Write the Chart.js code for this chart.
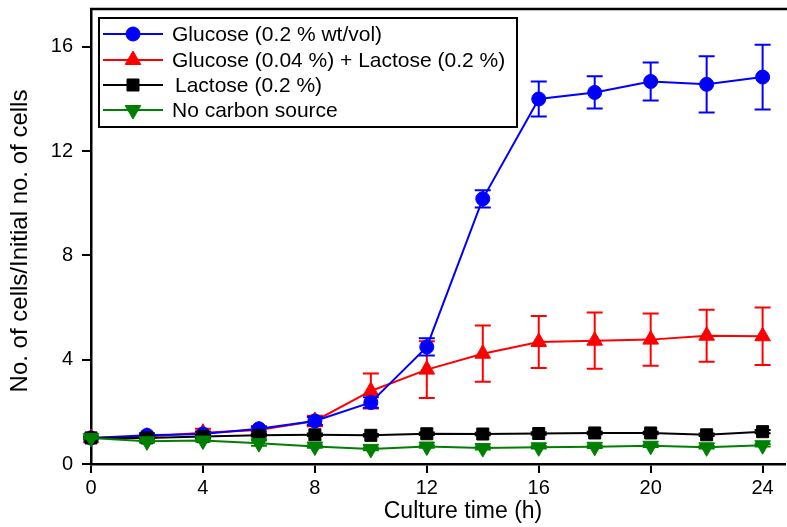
<!DOCTYPE html>
<html>
<head>
<meta charset="utf-8">
<script src="https://cdn.jsdelivr.net/npm/chart.js@4.4.1/dist/chart.umd.min.js"></script>
<style>
  html, body { margin: 0; padding: 0; background: #fff; }
  #wrap { width: 787px; height: 527px; }
</style>
</head>
<body>
<div id="wrap"><canvas id="chartCanvas" width="787" height="527"></canvas></div>
<script>
// Data
const hours = [0, 2, 4, 6, 8, 10, 12, 14, 16, 18, 20, 22, 24];

const glucose      = [1.0, 1.1, 1.15, 1.35, 1.65, 2.36, 4.49, 10.17, 14.0, 14.25, 14.67, 14.56, 14.84];
const glucoseErr   = [0.05, 0.08, 0.1, 0.1, 0.15, 0.2, 0.33, 0.33, 0.67, 0.62, 0.73, 1.08, 1.24];

const mixed        = [1.0, 1.05, 1.2, 1.3, 1.65, 2.8, 3.62, 4.23, 4.68, 4.73, 4.77, 4.92, 4.9];
const mixedErr     = [0.05, 0.08, 0.15, 0.12, 0.2, 0.67, 1.09, 1.08, 1.0, 1.08, 1.0, 1.0, 1.1];

const lactose      = [1.0, 1.0, 1.05, 1.1, 1.12, 1.1, 1.16, 1.15, 1.17, 1.19, 1.19, 1.12, 1.24];
const lactoseErr   = [0.03, 0.05, 0.06, 0.05, 0.05, 0.05, 0.05, 0.05, 0.05, 0.05, 0.05, 0.05, 0.06];

const noCarbon     = [1.0, 0.87, 0.9, 0.8, 0.67, 0.58, 0.67, 0.61, 0.64, 0.66, 0.7, 0.64, 0.72];
const noCarbonErr  = [0.03, 0.05, 0.04, 0.1, 0.05, 0.05, 0.05, 0.05, 0.05, 0.05, 0.05, 0.05, 0.05];

const seriesNames = [
  "Glucose (0.2 % wt/vol)",
  "Glucose (0.04 %) + Lactose (0.2 %)",
  "Lactose (0.2 %)",
  "No carbon source",
];

const xTicks = [0, 4, 8, 12, 16, 20, 24];
const yTicks = [0, 4, 8, 12, 16];

const xTitle = "Culture time (h)";
const yTitle = "No. of cells/Initial no. of cells";

const FONT = "'Liberation Sans', Arial, Helvetica, sans-serif";

const toPoints = (ys) => ys.map((y, i) => ({ x: hours[i], y: y }));

function makeSet(label, ys, errs, color, style, radius, rotation, order) {
  return {
    label: label,
    data: toPoints(ys),
    errors: errs,
    borderColor: color,
    backgroundColor: color,
    borderWidth: 2,
    pointStyle: style,
    pointRadius: radius,
    pointRotation: rotation,
    pointBackgroundColor: color,
    pointBorderColor: color,
    pointBorderWidth: 1,
    tension: 0,
    clip: false,
    order: order,
  };
}

const datasets = [
  makeSet(seriesNames[0], glucose, glucoseErr, "#0000ff", "circle", 7, 0, 2),
  makeSet(seriesNames[1], mixed, mixedErr, "#ff0000", "triangle", 9, 0, 3),
  makeSet(seriesNames[2], lactose, lactoseErr, "#000000", "rect", 8.5, 0, 1),
  makeSet(seriesNames[3], noCarbon, noCarbonErr, "#008000", "triangle", 9, 180, 0),
];

// Error bars, drawn under each dataset's markers
const errorBars = {
  id: "errorBars",
  beforeDatasetDraw(chart, args) {
    const ds = chart.data.datasets[args.index];
    if (!ds.errors) return;
    const yScale = chart.scales.y;
    const xScale = chart.scales.x;
    const ctx = chart.ctx;
    ctx.save();
    ctx.strokeStyle = ds.borderColor;
    ctx.lineWidth = 2;
    ds.data.forEach((p, i) => {
      const e = ds.errors[i];
      const px = xScale.getPixelForValue(p.x);
      const top = yScale.getPixelForValue(p.y + e);
      const bot = yScale.getPixelForValue(p.y - e);
      ctx.beginPath();
      ctx.moveTo(px, top);
      ctx.lineTo(px, bot);
      ctx.moveTo(px - 8, top);
      ctx.lineTo(px + 8, top);
      ctx.moveTo(px - 8, bot);
      ctx.lineTo(px + 8, bot);
      ctx.stroke();
    });
    ctx.restore();
  },
};

function drawMarker(ctx, ds, x, y) {
  const opts = {
    pointStyle: ds.pointStyle,
    radius: ds.pointRadius,
    rotation: ds.pointRotation,
    borderWidth: 1,
  };
  ctx.fillStyle = ds.pointBackgroundColor;
  ctx.strokeStyle = ds.pointBorderColor;
  ctx.lineWidth = 1;
  Chart.helpers.drawPoint(ctx, opts, x, y);
}

// Frame top line, legend box, axis titles
const decorations = {
  id: "decorations",
  afterDraw(chart) {
    const ctx = chart.ctx;
    const area = chart.chartArea;
    ctx.save();

    // top border of plot frame
    ctx.strokeStyle = "#000";
    ctx.lineWidth = 2.5;
    ctx.beginPath();
    ctx.moveTo(area.left - 1, area.top);
    ctx.lineTo(chart.width, area.top);
    ctx.stroke();

    // legend
    ctx.lineWidth = 2;
    ctx.fillStyle = "#fff";
    ctx.fillRect(99, 18, 418, 109);
    ctx.strokeRect(99, 18, 418, 109);
    const rowY = [34, 60, 85, 110];
    ctx.font = "21px " + FONT;
    ctx.textBaseline = "middle";
    chart.data.datasets.forEach((ds, i) => {
      const y = rowY[i];
      ctx.strokeStyle = ds.borderColor;
      ctx.lineWidth = 2;
      ctx.beginPath();
      ctx.moveTo(103, y);
      ctx.lineTo(163, y);
      ctx.stroke();
      drawMarker(ctx, ds, 133, y);
      ctx.fillStyle = "#000";
      ctx.fillText(ds.label, i === 2 ? 175 : 172, y + 1);
    });

    // axis titles
    ctx.fillStyle = "#000";
    ctx.textAlign = "center";
    ctx.textBaseline = "middle";
    ctx.font = "23px " + FONT;
    ctx.fillText(xTitle, 463, 512);
    ctx.font = "24px " + FONT;
    ctx.translate(20, 241);
    ctx.rotate(-Math.PI / 2);
    ctx.fillText(yTitle, 0, 0);
    ctx.restore();
  },
};

const ctx = document.getElementById("chartCanvas").getContext("2d");
const chart = new Chart(ctx, {
  type: "line",
  data: { datasets: datasets },
  options: {
    responsive: false,
    animation: false,
    layout: { autoPadding: false, padding: { top: 9, right: 2, left: 0, bottom: 0 } },
    plugins: {
      legend: { display: false },
      tooltip: { enabled: false },
    },
    scales: {
      x: {
        type: "linear",
        min: 0,
        max: 24.8,
        afterFit: (s) => { s.height = 63; s.paddingLeft = 0; s.paddingRight = 0; },
        afterBuildTicks: (s) => { s.ticks = xTicks.map((v) => ({ value: v })); },
        border: { display: true, color: "#000", width: 2.5 },
        grid: { drawOnChartArea: false, tickLength: 9, lineWidth: 2, color: "#000" },
        ticks: { color: "#000", padding: 3, maxRotation: 0, font: { size: 20, family: FONT } },
      },
      y: {
        type: "linear",
        min: 0,
        max: 17.45,
        afterFit: (s) => { s.width = 91; s.paddingTop = 0; s.paddingBottom = 0; },
        afterBuildTicks: (s) => { s.ticks = yTicks.map((v) => ({ value: v })); },
        border: { display: true, color: "#000", width: 2.5 },
        grid: { drawOnChartArea: false, tickLength: 9, lineWidth: 2, color: "#000" },
        ticks: { color: "#000", padding: 9, font: { size: 20, family: FONT } },
      },
    },
  },
  plugins: [errorBars, decorations],
});
</script>
</body>
</html>
